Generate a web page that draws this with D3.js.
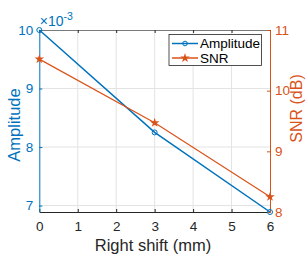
<!DOCTYPE html>
<html>
<head>
<meta charset="utf-8">
<script src="https://cdn.jsdelivr.net/npm/d3@7"></script>
<style>
  body { margin: 0; background: #fff; }
  svg { font-family: "Liberation Sans", Arial, sans-serif; }
</style>
</head>
<body>
<svg id="chart"></svg>
<script>
// Data
const shift = [0, 3, 6];
const amplitude = [10, 8.25, 6.89];   // x 10^-3
const snr = [10.52, 9.47, 8.25];      // dB
const xTicks = [0, 1, 2, 3, 4, 5, 6];
const ampTicks = [7, 8, 9, 10];
const snrTicks = [8, 9, 10, 11];

const width = 307, height = 257;
const blue = "#0072BD", orange = "#D95319", dark = "#262626";
const plotL = 39.3, plotR = 270, plotT = 30, plotB = 212;
const tickFont = 13.5;

const svg = d3.select("#chart").attr("width", width).attr("height", height);

const x = d3.scaleLinear().domain([0, 6]).range([plotL, plotR]);
const yL = d3.scaleLinear().domain([6.89, 10]).range([plotB, plotT]);
const yR = d3.scaleLinear().domain([8, 11]).range([plotB, plotT]);

// Grid
svg.append("g").selectAll("line").data(xTicks.slice(1, -1)).join("line")
  .attr("x1", d => x(d)).attr("x2", d => x(d))
  .attr("y1", plotT).attr("y2", plotB)
  .attr("stroke", "#e3e3e3").attr("stroke-width", 1);
svg.append("g").selectAll("line").data(ampTicks.filter(d => d < 10)).join("line")
  .attr("x1", plotL).attr("x2", plotR)
  .attr("y1", d => yL(d)).attr("y2", d => yL(d))
  .attr("stroke", "#e3e3e3").attr("stroke-width", 1);

// Axes
const tickLen = 3;
const xAxis = svg.append("g").attr("transform", `translate(0,${plotB})`)
  .call(d3.axisBottom(x).tickValues(xTicks).tickFormat(d3.format("d"))
    .tickSizeInner(-tickLen).tickSizeOuter(0).tickPadding(9.5));
xAxis.select(".domain").attr("stroke", dark);
xAxis.selectAll("line").attr("stroke", dark);
xAxis.selectAll("text").attr("fill", dark).attr("font-size", tickFont);

const xTop = svg.append("g").attr("transform", `translate(0,${plotT})`)
  .call(d3.axisTop(x).tickValues(xTicks).tickSizeInner(-tickLen).tickSizeOuter(0).tickFormat(""));
xTop.select(".domain").attr("stroke", "#7a7a7a");
xTop.selectAll("line").attr("stroke", dark);

const yAxisL = svg.append("g").attr("transform", `translate(${plotL},0)`)
  .call(d3.axisLeft(yL).tickValues(ampTicks).tickFormat(d3.format("d"))
    .tickSizeInner(-tickLen).tickSizeOuter(0).tickPadding(6));
yAxisL.select(".domain").attr("stroke", blue);
yAxisL.selectAll("line").attr("stroke", blue);
yAxisL.selectAll("text").attr("fill", blue).attr("font-size", tickFont);

const yAxisR = svg.append("g").attr("transform", `translate(${plotR},0)`)
  .call(d3.axisRight(yR).tickValues(snrTicks).tickFormat(d3.format("d"))
    .tickSizeInner(-tickLen).tickSizeOuter(0).tickPadding(5));
yAxisR.select(".domain").attr("stroke", orange);
yAxisR.selectAll("line").attr("stroke", orange);
yAxisR.selectAll("text").attr("fill", orange).attr("font-size", tickFont);

// Exponent label
const expo = svg.append("text").attr("x", plotL + 0.5).attr("y", 26)
  .attr("fill", blue).attr("font-size", 14);
expo.append("tspan").text("\u00d710");
expo.append("tspan").attr("dy", -6).attr("font-size", 10.5).text("-3");

// Lines
const lineL = d3.line().x((d, i) => x(shift[i])).y(d => yL(d));
const lineR = d3.line().x((d, i) => x(shift[i])).y(d => yR(d));

svg.append("path").datum(amplitude).attr("d", lineL)
  .attr("fill", "none").attr("stroke", blue).attr("stroke-width", 1.5);
svg.append("path").datum(snr).attr("d", lineR)
  .attr("fill", "none").attr("stroke", orange).attr("stroke-width", 1.2);

const star = d3.symbol().type(d3.symbolStar).size(28);
svg.append("g").selectAll("circle").data(amplitude).join("circle")
  .attr("cx", (d, i) => x(shift[i])).attr("cy", d => yL(d)).attr("r", 2.5)
  .attr("fill", "none").attr("stroke", blue).attr("stroke-width", 1);
svg.append("g").selectAll("path").data(snr).join("path")
  .attr("transform", (d, i) => `translate(${x(shift[i])},${yR(d)})`)
  .attr("d", star).attr("fill", orange);

// Axis labels
svg.append("text").attr("x", 153).attr("y", 250.5)
  .attr("text-anchor", "middle").attr("fill", dark).attr("font-size", 16.5)
  .text("Right shift (mm)");
svg.append("text").attr("transform", `translate(20,125) rotate(-90)`)
  .attr("text-anchor", "middle").attr("fill", blue).attr("font-size", 16.5)
  .text("Amplitude");
svg.append("text").attr("transform", `translate(301.5,108.5) rotate(-90)`)
  .attr("text-anchor", "middle").attr("fill", orange).attr("font-size", 16)
  .text("SNR (dB)");

// Legend
const lg = svg.append("g");
lg.append("rect").attr("x", 169).attr("y", 34.5).attr("width", 92.5).attr("height", 31)
  .attr("fill", "#fff").attr("stroke", dark).attr("stroke-width", 0.8);
const entries = [
  { name: "Amplitude", color: blue, y: 43.5, mark: "circle" },
  { name: "SNR", color: orange, y: 58, mark: "star" }
];
entries.forEach(e => {
  lg.append("line").attr("x1", 172).attr("x2", 198).attr("y1", e.y).attr("y2", e.y)
    .attr("stroke", e.color).attr("stroke-width", 1.5);
  if (e.mark === "circle") {
    lg.append("circle").attr("cx", 185).attr("cy", e.y).attr("r", 2.3)
      .attr("fill", "none").attr("stroke", e.color).attr("stroke-width", 1);
  } else {
    lg.append("path").attr("transform", `translate(185,${e.y})`).attr("d", star).attr("fill", e.color);
  }
  lg.append("text").attr("x", 200).attr("y", e.y + 4.5).attr("fill", "#000")
    .attr("font-size", 13.5).text(e.name);
});
</script>
</body>
</html>
